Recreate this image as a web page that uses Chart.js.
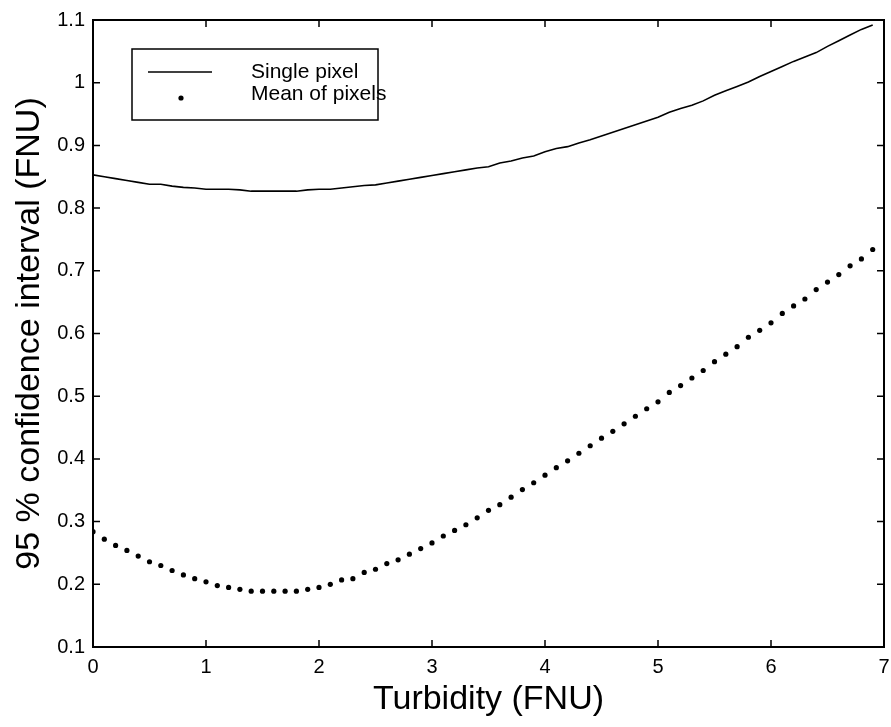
<!DOCTYPE html>
<html>
<head>
<meta charset="utf-8">
<script src="https://cdn.jsdelivr.net/npm/chart.js@4.4.1/dist/chart.umd.min.js"></script>
<style>
  html, body { margin: 0; padding: 0; background: #fff; }
  #chart-container { width: 891px; height: 727px; }
</style>
</head>
<body>
<div id="chart-container"><canvas id="ci-chart" width="891" height="727"></canvas></div>
<script>
// turbidity values (FNU), step 0.1
var turbidity = [];
for (var i = 0; i < 70; i++) turbidity.push(i / 10);

var singlePixel = [
    0.853, 0.850, 0.847, 0.844, 0.841, 0.838, 0.838, 0.835, 0.833, 0.832,
    0.830, 0.830, 0.830, 0.829, 0.827, 0.827, 0.827, 0.827, 0.827, 0.829,
    0.830, 0.830, 0.832, 0.834, 0.836, 0.837, 0.840, 0.843, 0.846, 0.849,
    0.852, 0.855, 0.858, 0.861, 0.864, 0.866, 0.872, 0.875, 0.880, 0.883,
    0.890, 0.895, 0.898, 0.904, 0.909, 0.915, 0.921, 0.927, 0.933, 0.939,
    0.945, 0.953, 0.959, 0.964, 0.971, 0.980, 0.987, 0.994, 1.001, 1.010,
    1.018, 1.026, 1.034, 1.041, 1.048, 1.058, 1.067, 1.076, 1.085, 1.092
];

var meanPixels = [
    0.284, 0.272, 0.262, 0.254, 0.245, 0.236, 0.230, 0.222, 0.215, 0.209,
    0.204, 0.198, 0.195, 0.192, 0.189, 0.189, 0.189, 0.189, 0.189, 0.192,
    0.195, 0.200, 0.207, 0.209, 0.219, 0.224, 0.233, 0.239, 0.248, 0.257,
    0.266, 0.277, 0.286, 0.295, 0.306, 0.318, 0.327, 0.339, 0.351, 0.362,
    0.374, 0.386, 0.397, 0.409, 0.421, 0.433, 0.444, 0.456, 0.468, 0.480,
    0.491, 0.506, 0.517, 0.529, 0.541, 0.555, 0.567, 0.579, 0.594, 0.605,
    0.617, 0.632, 0.644, 0.655, 0.670, 0.682, 0.694, 0.708, 0.719, 0.734
];

var xTicks = [0, 1, 2, 3, 4, 5, 6, 7];
var yTicks = [0.1, 0.2, 0.3, 0.4, 0.5, 0.6, 0.7, 0.8, 0.9, 1, 1.1];

var FONT = '"Liberation Sans", Arial, Helvetica, sans-serif';

function toPoints(xs, ys) {
    var pts = [];
    for (var i = 0; i < xs.length; i++) pts.push({ x: xs[i], y: ys[i] });
    return pts;
}

// box round the plot + inward ticks on all four sides (matlab style)
var framePlugin = {
    id: 'frame',
    afterDraw: function(chart) {
        var ctx = chart.ctx, a = chart.chartArea;
        var sx = chart.scales.x, sy = chart.scales.y;
        var len = 7;
        ctx.save();
        ctx.strokeStyle = '#000';
        ctx.lineWidth = 1.5;
        ctx.beginPath();
        xTicks.forEach(function(v) {
            var px = sx.getPixelForValue(v);
            ctx.moveTo(px, a.bottom); ctx.lineTo(px, a.bottom - len);
            ctx.moveTo(px, a.top); ctx.lineTo(px, a.top + len);
        });
        yTicks.forEach(function(v) {
            var py = sy.getPixelForValue(v);
            ctx.moveTo(a.left, py); ctx.lineTo(a.left + len, py);
            ctx.moveTo(a.right, py); ctx.lineTo(a.right - len, py);
        });
        ctx.stroke();
        ctx.lineWidth = 2;
        ctx.strokeRect(a.left, a.top, a.right - a.left, a.bottom - a.top);
        ctx.restore();
    }
};

// legend box in upper left
var legendPlugin = {
    id: 'boxLegend',
    afterDraw: function(chart) {
        var ctx = chart.ctx;
        var ds = chart.data.datasets;
        var bx = 132, by = 49, bw = 246, bh = 71;
        ctx.save();
        ctx.fillStyle = '#fff';
        ctx.fillRect(bx, by, bw, bh);
        ctx.strokeStyle = '#000';
        ctx.lineWidth = 1.5;
        ctx.strokeRect(bx, by, bw, bh);

        ctx.lineWidth = ds[0].borderWidth;
        ctx.beginPath();
        ctx.moveTo(148, 72);
        ctx.lineTo(212, 72);
        ctx.stroke();

        ctx.fillStyle = ds[1].pointBackgroundColor;
        ctx.beginPath();
        ctx.arc(181, 98, ds[1].pointRadius, 0, Math.PI * 2);
        ctx.fill();

        ctx.fillStyle = '#000';
        ctx.font = '21px ' + FONT;
        ctx.textBaseline = 'middle';
        ctx.fillText(ds[0].label, 251, 72);
        ctx.fillText(ds[1].label, 251, 94);
        ctx.restore();
    }
};

var ctx = document.getElementById('ci-chart');
var ci_chart = new Chart(ctx, {
    type: 'scatter',
    data: {
        datasets: [{
            label: 'Single pixel',
            data: toPoints(turbidity, singlePixel),
            showLine: true,
            borderColor: '#000',
            borderWidth: 1.6,
            pointRadius: 0,
            tension: 0
        }, {
            label: 'Mean of pixels',
            data: toPoints(turbidity, meanPixels),
            showLine: false,
            pointRadius: 2.6,
            pointBackgroundColor: '#000',
            pointBorderWidth: 0,
            borderColor: '#000'
        }]
    },
    options: {
        responsive: false,
        animation: false,
        devicePixelRatio: 1,
        layout: { padding: { top: 19, right: 0, left: 0, bottom: 0 } },
        plugins: {
            legend: { display: false },
            tooltip: { enabled: false }
        },
        scales: {
            x: {
                type: 'linear',
                min: 0,
                max: 7,
                afterFit: function(scale) {
                    scale.height = 80;
                    scale.paddingRight = 7;
                },
                afterBuildTicks: function(scale) {
                    scale.ticks = xTicks.map(function(v) { return { value: v }; });
                },
                grid: { display: false, drawTicks: false },
                border: { display: false },
                ticks: {
                    padding: 8,
                    color: '#000',
                    font: { family: FONT, size: 20 },
                    maxRotation: 0,
                    callback: function(v) { return String(v); }
                },
                title: {
                    display: true,
                    text: 'Turbidity (FNU)',
                    color: '#000',
                    font: { family: FONT, size: 34 },
                    padding: { top: 0, bottom: 7 }
                }
            },
            y: {
                type: 'linear',
                min: 0.1,
                max: 1.1,
                afterFit: function(scale) { scale.width = 93; },
                afterBuildTicks: function(scale) {
                    scale.ticks = yTicks.map(function(v) { return { value: v }; });
                },
                grid: { display: false, drawTicks: false },
                border: { display: false },
                ticks: {
                    padding: 8,
                    color: '#000',
                    font: { family: FONT, size: 20 },
                    callback: function(v) { return String(Math.round(v * 10) / 10); }
                },
                title: {
                    display: true,
                    text: '95 % confidence interval (FNU)',
                    color: '#000',
                    font: { family: FONT, size: 34 },
                    padding: { top: 9, bottom: 0 }
                }
            }
        }
    },
    plugins: [framePlugin, legendPlugin]
});
</script>
</body>
</html>
